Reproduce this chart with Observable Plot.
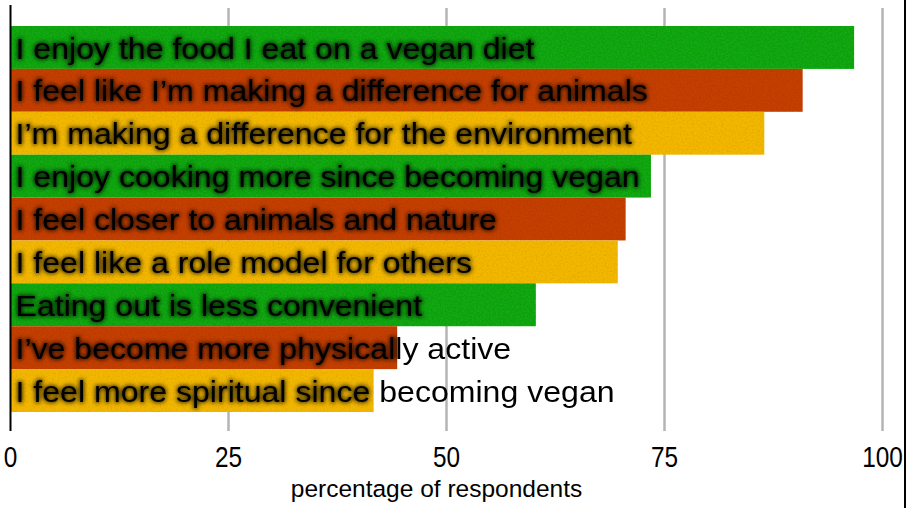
<!DOCTYPE html>
<html><head><meta charset="utf-8">
<script src="https://cdn.jsdelivr.net/npm/d3@7"></script>
<script src="https://cdn.jsdelivr.net/npm/@observablehq/plot@0.6"></script>
<style>
body{margin:0;background:#fff}
#chart{position:relative;width:916px;height:508px;overflow:hidden}
#chart::after{content:"";position:absolute;left:904px;top:0;width:2px;height:508px;background:#000}
#chart svg{display:block;max-width:none}
</style></head><body><div id="chart"></div>
<script>
const statements = [
  "I enjoy the food I eat on a vegan diet",
  "I feel like I’m making a difference for animals",
  "I’m making a difference for the environment",
  "I enjoy cooking more since becoming vegan",
  "I feel closer to animals and nature",
  "I feel like a role model for others",
  "Eating out is less convenient",
  "I’ve become more physically active",
  "I feel more spiritual since becoming vegan"
];
const percentages = [96.8, 90.9, 86.5, 73.5, 70.6, 69.7, 60.3, 44.4, 41.7];
const colorGroups = [0, 1, 2, 0, 1, 2, 0, 1, 2];
const xTicks = [0, 25, 50, 75, 100];
const gridTicks = [25, 50, 75, 100];
const palette = ["#13a713", "#c43f02", "#f3b701"];
const xLabel = "percentage of respondents";

const rows = statements.map((s, i) => ({statement: s, pct: percentages[i], group: colorGroups[i]}));
const labelFont = "'Liberation Sans', Arial, Helvetica, sans-serif";

const svg = Plot.plot({
  width: 916, height: 508,
  marginLeft: 10, marginRight: 34, marginTop: 5, marginBottom: 77,
  style: {fontFamily: labelFont, background: "transparent", color: "#000"},
  x: {domain: [0, 100], axis: null},
  y: {domain: statements, range: [26, 412], padding: 0, round: false, axis: null},
  color: {domain: [0, 1, 2], range: palette},
  marks: [
    Plot.ruleX(gridTicks, {stroke: "#b4b4b4", strokeWidth: 2.5, insetTop: 3}),
    Plot.barX(rows, {x: "pct", y: "statement", fill: "group"}),
    Plot.ruleX([0], {stroke: "#000", strokeWidth: 2}),
    Plot.text(rows, {x: 0, y: "statement", text: "statement", textAnchor: "start", dx: 5, dy: 1, fontSize: 30,
      fill: "#000", stroke: "#000", strokeWidth: 3.5, strokeOpacity: 0.27}),
    Plot.text(rows, {x: 0, y: "statement", text: "statement", textAnchor: "start", dx: 5, dy: 1, fontSize: 30, fill: "#000"}),
    Plot.axisX(xTicks, {tickSize: 0, tickPadding: 15, fontSize: 29, label: null}),
    Plot.text([xLabel], {text: d => d, frameAnchor: "bottom", dy: 65, dx: -10, fontSize: 24.5, fill: "#000"})
  ]
});

const ns = "http://www.w3.org/2000/svg";
const defs = document.createElementNS(ns, "defs");
defs.innerHTML = `
<filter id="grain" x="0" y="0" width="100%" height="100%" filterUnits="objectBoundingBox">
  <feTurbulence type="fractalNoise" baseFrequency="0.55" numOctaves="2" seed="7" result="noise"/>
  <feColorMatrix in="noise" type="matrix" values="0 0 0 0 0  0 0 0 0 0  0 0 0 0 0  0 0 0 -0.35 0.2" result="dark"/>
  <feComposite in="dark" in2="SourceGraphic" operator="in" result="grainIn"/>
  <feMerge><feMergeNode in="SourceGraphic"/><feMergeNode in="grainIn"/></feMerge>
</filter>
<filter id="halo" x="-5%" y="-30%" width="110%" height="160%">
  <feGaussianBlur stdDeviation="2"/>
</filter>`;
svg.prepend(defs);

function stretch(group, sx) {
  group.querySelectorAll("text").forEach(t => {
    const tr = t.getAttribute("transform") || "";
    t.setAttribute("transform", tr + ` scale(${sx},1)`);
  });
}
const textGroups = svg.querySelectorAll('g[aria-label="text"]');
stretch(textGroups[0], 1.07);
stretch(textGroups[1], 1.07);
const tickG = svg.querySelector('g[aria-label="x-axis tick label"]');
if (tickG) stretch(tickG, 0.84);

const barG = svg.querySelector('g[aria-label="bar"]');
barG.setAttribute("filter", "url(#grain)");
const clip = document.createElementNS(ns, "clipPath");
clip.setAttribute("id", "barclip");
barG.querySelectorAll("rect").forEach(r => clip.appendChild(r.cloneNode()));
defs.appendChild(clip);
const haloG = textGroups[0];
const wrap = document.createElementNS(ns, "g");
wrap.setAttribute("clip-path", "url(#barclip)");
haloG.parentNode.insertBefore(wrap, haloG);
wrap.appendChild(haloG);
haloG.setAttribute("filter", "url(#halo)");
document.getElementById("chart").appendChild(svg);
</script></body></html>
